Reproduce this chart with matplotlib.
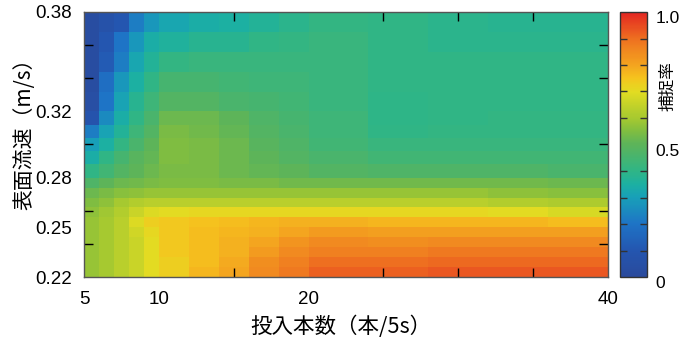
import numpy as np
import matplotlib
matplotlib.use("Agg")
import matplotlib.pyplot as plt
from matplotlib.colors import LinearSegmentedColormap
from matplotlib.ticker import MultipleLocator, FixedLocator
import matplotlib.transforms as mtransforms

# cell edges of the pcolor grid
x_edges = [5, 6, 7, 8, 9, 10, 12, 14, 16, 18, 20, 24, 28, 32, 36, 40]
y_edges = [0.220, 0.226, 0.232, 0.238, 0.244, 0.250, 0.256, 0.262, 0.268, 0.274,
           0.280, 0.288, 0.296, 0.304, 0.312, 0.320, 0.332, 0.344, 0.356, 0.368, 0.380]

# capture rate, rows from top (0.368-0.38) down to bottom (0.22-0.226)
rate_top_down = [
    [0.03, 0.07, 0.10, 0.22, 0.28, 0.32, 0.34, 0.35, 0.37, 0.39, 0.41, 0.40, 0.39, 0.38, 0.38],
    [0.03, 0.10, 0.20, 0.28, 0.34, 0.36, 0.38, 0.38, 0.40, 0.41, 0.42, 0.40, 0.39, 0.39, 0.39],
    [0.03, 0.12, 0.22, 0.32, 0.37, 0.41, 0.42, 0.42, 0.42, 0.42, 0.42, 0.40, 0.40, 0.40, 0.40],
    [0.03, 0.18, 0.28, 0.35, 0.40, 0.45, 0.45, 0.44, 0.43, 0.43, 0.42, 0.40, 0.40, 0.40, 0.40],
    [0.04, 0.20, 0.31, 0.38, 0.43, 0.48, 0.48, 0.46, 0.45, 0.44, 0.42, 0.395, 0.40, 0.40, 0.40],
    [0.08, 0.25, 0.34, 0.40, 0.46, 0.52, 0.52, 0.50, 0.47, 0.45, 0.43, 0.395, 0.40, 0.41, 0.41],
    [0.22, 0.31, 0.37, 0.43, 0.48, 0.54, 0.53, 0.51, 0.48, 0.46, 0.43, 0.40, 0.41, 0.41, 0.41],
    [0.30, 0.35, 0.41, 0.46, 0.50, 0.55, 0.54, 0.52, 0.49, 0.47, 0.44, 0.42, 0.42, 0.42, 0.42],
    [0.34, 0.40, 0.45, 0.49, 0.51, 0.55, 0.54, 0.52, 0.50, 0.48, 0.46, 0.44, 0.44, 0.44, 0.44],
    [0.40, 0.44, 0.48, 0.50, 0.52, 0.54, 0.54, 0.52, 0.51, 0.50, 0.48, 0.47, 0.47, 0.47, 0.46],
    [0.47, 0.50, 0.52, 0.53, 0.54, 0.55, 0.55, 0.54, 0.54, 0.53, 0.53, 0.53, 0.53, 0.53, 0.52],
    [0.52, 0.54, 0.56, 0.57, 0.58, 0.58, 0.58, 0.58, 0.58, 0.58, 0.58, 0.58, 0.58, 0.57, 0.56],
    [0.55, 0.57, 0.60, 0.62, 0.63, 0.63, 0.63, 0.63, 0.63, 0.63, 0.63, 0.63, 0.63, 0.62, 0.61],
    [0.57, 0.59, 0.62, 0.66, 0.69, 0.70, 0.71, 0.71, 0.71, 0.71, 0.71, 0.71, 0.71, 0.70, 0.68],
    [0.58, 0.60, 0.63, 0.69, 0.73, 0.74, 0.75, 0.76, 0.77, 0.78, 0.78, 0.77, 0.77, 0.77, 0.76],
    [0.58, 0.60, 0.63, 0.67, 0.71, 0.74, 0.76, 0.77, 0.78, 0.80, 0.82, 0.81, 0.81, 0.81, 0.81],
    [0.58, 0.60, 0.63, 0.66, 0.70, 0.74, 0.76, 0.78, 0.80, 0.83, 0.85, 0.84, 0.85, 0.85, 0.85],
    [0.58, 0.60, 0.63, 0.66, 0.70, 0.74, 0.76, 0.78, 0.82, 0.85, 0.87, 0.87, 0.88, 0.88, 0.88],
    [0.58, 0.60, 0.63, 0.66, 0.70, 0.73, 0.76, 0.79, 0.84, 0.87, 0.90, 0.90, 0.91, 0.91, 0.91],
    [0.58, 0.60, 0.63, 0.66, 0.70, 0.73, 0.77, 0.80, 0.85, 0.88, 0.92, 0.92, 0.93, 0.93, 0.93],
]

x_tick_labels = [5, 10, 20, 40]
y_tick_labels = [0.22, 0.25, 0.28, 0.32, 0.38]
cb_tick_vals = [0, 0.5, 1.0]
cb_tick_text = ["0", "0.5", "1.0"]

# colormap
cmap_pos = [0.0, 0.1, 0.2, 0.3, 0.35, 0.4, 0.5, 0.55, 0.6, 0.7, 0.75, 0.8, 0.9, 1.0]
cmap_cols = ["#2a4a9c", "#2456b0", "#1e74c6", "#18a0b8", "#1cb0a2", "#30b585",
             "#5cb45a", "#80bd40", "#a6c930", "#e2dc22", "#f5c41e", "#f4a51f",
             "#ee7020", "#e32522"]
cmap = LinearSegmentedColormap.from_list("rate", list(zip(cmap_pos, cmap_cols)))

num_font = "Liberation Sans"
cjk = ["Noto Sans CJK JP", "DejaVu Sans"]

C = np.array(rate_top_down)[::-1]

fig = plt.figure(figsize=(6.82, 3.43), dpi=100)
ax = fig.add_axes([84 / 682, 66 / 343, 524 / 682, 265 / 343])
mesh = ax.pcolormesh(x_edges, y_edges, C, cmap=cmap, vmin=0, vmax=1, shading="flat")
ax.set_xlim(5, 40)
ax.set_ylim(0.22, 0.38)

ax.xaxis.set_major_locator(FixedLocator(x_tick_labels))
ax.set_xticklabels([str(v) for v in x_tick_labels], fontfamily=num_font, fontsize=13.5)
ax.xaxis.set_minor_locator(MultipleLocator(5))
ax.yaxis.set_major_locator(FixedLocator(y_tick_labels))
ax.set_yticklabels([f"{v:.2f}" for v in y_tick_labels], fontfamily=num_font, fontsize=13.5)
ax.yaxis.set_minor_locator(MultipleLocator(0.02))
ax.tick_params(axis="x", which="major", length=0, pad=10)
ax.tick_params(axis="y", which="major", length=0, pad=9)
ax.tick_params(which="minor", direction="in", length=6.5, width=1, color="black",
               top=True, right=True)
for s in ax.spines.values():
    s.set_color("#555555")
    s.set_linewidth(1)

ax.set_xlabel("投入本数（本/5s）", fontfamily=cjk, fontsize=15.5)
ax.set_ylabel("表面流速（m/s）", fontfamily=cjk, fontsize=15)
ax.xaxis.set_label_coords(0.49, -0.145)
ax.yaxis.set_label_coords(-0.093, 0.56)

cax = fig.add_axes([620 / 682, 66 / 343, 27 / 682, 265 / 343])
cb = fig.colorbar(mesh, cax=cax)
cb.outline.set_edgecolor("#333333")
cb.outline.set_linewidth(1)
cax.yaxis.set_major_locator(FixedLocator(cb_tick_vals))
cax.set_yticklabels(cb_tick_text, fontfamily=num_font, fontsize=12.5)
cax.yaxis.set_minor_locator(MultipleLocator(0.1))
cax.tick_params(which="major", length=0, pad=6)
cax.tick_params(which="minor", direction="in", length=5, width=1, color="#333333",
                left=True, right=True)
offset = mtransforms.ScaledTranslation(0, -5 / 100, fig.dpi_scale_trans)
for lab in cax.get_yticklabels():
    lab.set_transform(lab.get_transform() + offset)
cax.text(1.78, 0.72, "捕捉率", transform=cax.transAxes, rotation=90,
         ha="center", va="center", fontfamily=cjk, fontsize=12)

fig.savefig("out.png", dpi=100)
